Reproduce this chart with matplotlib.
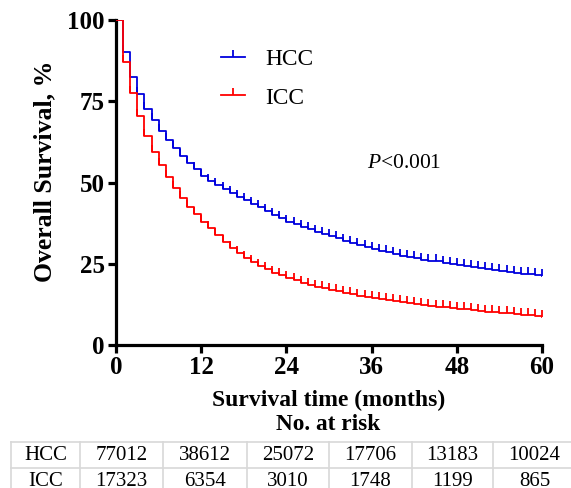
import numpy as np
import matplotlib
matplotlib.use('Agg')
import matplotlib.pyplot as plt
from matplotlib.lines import Line2D

plt.rcParams['font.family'] = 'Liberation Serif'
plt.rcParams['mathtext.fontset'] = 'custom'
plt.rcParams['mathtext.it'] = 'Liberation Serif:italic'
plt.rcParams['mathtext.rm'] = 'Liberation Serif'

# Survival (%) at the start of each month 0..60
months = np.arange(0, 61)
hcc = [100, 90.1, 82.6, 77.1, 72.6, 69.2, 65.8, 63.0, 60.5, 58.1,
       56.0, 54.1, 52.1, 50.6, 49.2, 48.0, 46.8, 45.6, 44.5, 43.5,
       42.5, 41.3, 40.1, 39.0, 38.0, 37.2, 36.4, 35.6, 34.9, 34.2,
       33.5, 32.8, 32.1, 31.4, 30.8, 30.1, 29.5, 29.0, 28.5, 28.0,
       27.5, 27.1, 26.7, 26.3, 26.0, 25.7, 25.3, 25.0, 24.7, 24.4,
       24.1, 23.8, 23.5, 23.2, 22.9, 22.6, 22.3, 22.0, 21.8, 21.5, 21.3]
icc = [100, 87.2, 77.4, 70.5, 64.3, 59.5, 55.4, 51.8, 48.4, 45.3,
       42.6, 40.2, 38.0, 35.9, 33.7, 31.7, 29.9, 28.3, 26.9, 25.6,
       24.4, 23.3, 22.3, 21.4, 20.6, 19.9, 19.2, 18.6, 18.0, 17.5,
       17.0, 16.5, 16.0, 15.6, 15.2, 14.8, 14.4, 14.1, 13.8, 13.5,
       13.2, 12.9, 12.6, 12.3, 12.1, 11.8, 11.6, 11.4, 11.2, 11.0,
       10.7, 10.5, 10.3, 10.1, 9.9, 9.7, 9.5, 9.3, 9.1, 8.9, 8.7]

groups = ['HCC', 'ICC']
colors = ['#0000dd', '#ff0000']
risk_times = [0, 12, 24, 36, 48, 60]
risk_hcc = [77012, 38612, 25072, 17706, 13183, 10024]
risk_icc = [17323, 6354, 3010, 1748, 1199, 865]

W, H = 571, 488
fig = plt.figure(figsize=(W / 100, H / 100), dpi=100)


def fx(px):
    return px / W


def fy(py):
    return (H - py) / H


ax = fig.add_axes([fx(116), fy(345), fx(542) - fx(116), fy(20) - fy(345)])

for vals, col in zip([hcc, icc], colors):
    ax.step(months, vals, where='post', color=col, lw=1.3, zorder=3)
    ax.plot(months[1:], vals[1:], linestyle='none', marker=2, ms=5,
            mew=1.3, color=col, zorder=3)

ax.set_xlim(0, 60)
ax.set_ylim(0, 100)
ax.set_xticks(risk_times)
ax.set_yticks([0, 25, 50, 75, 100])
for s in ['top', 'right']:
    ax.spines[s].set_visible(False)
for s in ['left', 'bottom']:
    ax.spines[s].set_linewidth(2.3)
ax.tick_params(width=2.3, length=6, labelsize=18, pad=2)
for lab in ax.get_xticklabels() + ax.get_yticklabels():
    lab.set_fontweight('bold')
ax.set_xlabel('Survival time (months)', fontsize=17, fontweight='bold', labelpad=8)
ax.set_ylabel('Overall Survival, %', fontsize=18.5, fontweight='bold')
ax.yaxis.set_label_coords(-0.141, 0.535)

handles = [Line2D([], [], color=c, lw=1.3, marker=2, ms=5, mew=1.3) for c in colors]
ax.legend(handles, groups, loc='upper left', bbox_to_anchor=(0.197, 0.975),
          frameon=False, fontsize=16.8, handlelength=1.05, handletextpad=0.85,
          labelspacing=0.72, numpoints=1)

ax.text(35.4, 56, r'$\mathit{P}$<0.001', fontsize=15.5, va='center', ha='left')

# Number at risk table
fig.text(fx(328), fy(425), 'No. at risk', ha='center', va='center',
         fontsize=16.8, fontweight='bold')
col_edges = [11, 80, 163, 247, 329, 412, 493, 576]
row_edges = [442, 468, 494]
grid = '#d8d8d8'
for yy in row_edges:
    fig.add_artist(Line2D([fx(col_edges[0]), fx(col_edges[-1])], [fy(yy), fy(yy)],
                          color=grid, lw=1.2))
for xx in col_edges:
    fig.add_artist(Line2D([fx(xx), fx(xx)], [fy(row_edges[0]), fy(row_edges[-1])],
                          color=grid, lw=1.2))
for r, (name, counts) in enumerate(zip(groups, [risk_hcc, risk_icc])):
    yc = fy((row_edges[r] + row_edges[r + 1]) / 2)
    cells = [name] + [str(c) for c in counts]
    for c, txt in enumerate(cells):
        xc = fx((col_edges[c] + col_edges[c + 1]) / 2)
        fig.text(xc, yc, txt, ha='center', va='center', fontsize=15)

fig.savefig('out.png', dpi=100)
